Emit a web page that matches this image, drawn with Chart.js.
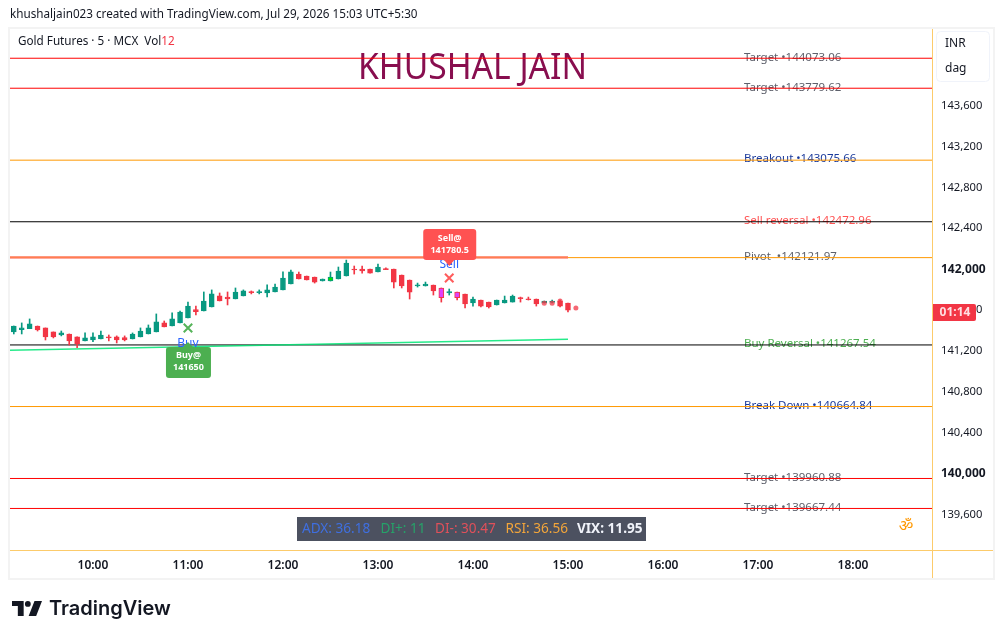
<!DOCTYPE html>
<html><head><meta charset="utf-8">
<style>
html,body{margin:0;padding:0;background:#fff;width:1004px;height:639px;overflow:hidden}
canvas{position:absolute;left:0;top:0}
#logo{position:absolute;left:12px;top:601px}
</style>
<script src="https://cdn.jsdelivr.net/npm/chart.js@4"></script>
</head><body>
<canvas id="c" width="1004" height="639"></canvas>
<svg id="logo" width="30" height="15" viewBox="0 0 36 18"><path fill="#131722" d="M14 0H0v6h7v12h7V0zM20 18L27 0h9l-7 18h-9zM19 7a3.500 3.500 0 1 0 0-7 3.500 3.500 0 0 0 0 7z"/></svg>
<script>
const FONT = '"Noto Sans", sans-serif';
const firstBarMinute = 550;
const barMinutes = 5;
const opens  = [141395,141418,141427,141453,141434,141395,141365,141375,141346,141307,141316,141326,141346,141346,141339,141326,141346,141375,141395,141483,141453,141483,141532,141613,141600,141639,141747,141737,141718,141747,141789,141780,141776,141786,141806,141864,141961,141942,141932,141893,141893,141913,141942,142010,142010,142010,141981,142014,142010,141952,141903,141844,141844,141854,141825,141776,141785,141766,141678,141707,141687,141658,141678,141687,141730,141720,141717,141678,141684,141697,141678];
const highs  = [141453,141483,141522,141453,141434,141395,141404,141375,141346,141385,141385,141404,141365,141356,141356,141385,141434,141463,141571,141502,141581,141600,141688,141649,141786,141806,141776,141786,141825,141806,141796,141806,141855,141864,141982,142001,141981,141942,141932,141913,141981,142030,142098,142040,142040,142010,142059,142023,142010,141952,141903,141873,141883,141854,141825,141815,141785,141766,141736,141707,141687,141707,141746,141756,141736,141736,141717,141697,141707,141707,141678];
const lows   = [141375,141375,141427,141404,141316,141336,141356,141267,141241,141307,141300,141326,141307,141287,141307,141326,141346,141375,141395,141444,141453,141483,141532,141561,141600,141639,141698,141659,141718,141747,141767,141767,141737,141786,141806,141864,141913,141903,141873,141893,141893,141913,141942,141961,141971,141971,141981,142004,141825,141825,141717,141834,141844,141756,141687,141756,141707,141629,141648,141639,141629,141658,141678,141687,141687,141707,141648,141678,141678,141639,141590];
const closes = [141453,141434,141473,141414,141346,141346,141385,141307,141277,141336,141346,141365,141336,141316,141316,141375,141404,141434,141493,141444,141522,141590,141649,141594,141698,141767,141698,141718,141786,141796,141780,141789,141806,141835,141923,141982,141913,141903,141883,141913,141932,141991,142069,142001,141991,141971,142030,142004,141883,141844,141785,141857,141864,141795,141730,141789,141730,141668,141717,141648,141639,141707,141707,141746,141720,141710,141668,141697,141697,141648,141609];
const limeBars = [40];
const magentaBars = [54, 56];
const dotMinutes = [885, 890, 895, 905];
const dotPrices = [141675, 141675, 141698, 141629];
const levelNames = ['Target •','Target •','Breakout •','Sell reversal •','Pivot  •','Buy Reversal •','Break Down •','Target •','Target •'];
const levelValues = [144073.06,143779.62,143075.66,142472.96,142121.97,141267.54,140664.84,139960.88,139667.44];
const levelColors = ['#ff0000','#ff0000','#ff9800','#000000','#ff9800','#000000','#ff9800','#ff0000','#ff0000'];
const levelTextColors = ['#5d606b','#5d606b','#1a3a9c','#ff5252','#5d606b','#4caf50','#1a3a9c','#5d606b','#5d606b'];
const priceTicks = [139600,140000,140400,140800,141200,141600,142000,142400,142800,143200,143600,144000];
const timeTicks = [600,660,720,780,840,900,960,1020,1080];
const timeLabels = ['10:00','11:00','12:00','13:00','14:00','15:00','16:00','17:00','18:00'];
const xMin = 547.6, xMax = 1129.9, yMin = 139261, yMax = 144369;
const sellLinePrice = 142123;
const buyLineStart = 141215, buyLineEnd = 141323;
const lineEndMinute = 900;
const buyMark = {x:660, y:141434, label:'Buy', top:'Buy@', bottom:'141650'};
const sellMark = {x:825, y:141923, label:'Sell', top:'Sell@', bottom:'141780.5'};
const tableCells = [['ADX: 36.18','#3f6fe0',302,'400'],['DI+: 11','#26a269',380.5,'400'],['DI-: 30.47','#e0505a',435,'400'],['RSI: 36.56','#f2a53a',505.5,'400'],['VIX: 11.95','#f0f3fa',577,'700']];

const GREEN='#089981', RED='#f23645';
const times = opens.map((_,i)=>firstBarMinute+i*barMinutes);
const isUp = i => closes[i]>=opens[i];
const candleColor = opens.map((_,i)=>isUp(i)?GREEN:RED);
const bodyFill = opens.map((_,i)=> limeBars.includes(i)?'#00e600':magentaBars.includes(i)?'#e040fb':candleColor[i]);

const datasets = [];
levelValues.forEach((v,i)=>datasets.push({type:'line',data:[{x:xMin,y:v},{x:xMax,y:v}],borderColor:levelColors[i],borderWidth:1,pointRadius:0,order:20}));
datasets.push({type:'line',data:[{x:xMin,y:sellLinePrice},{x:lineEndMinute,y:sellLinePrice}],borderColor:'rgba(255,82,82,.45)',borderWidth:3,pointRadius:0,order:12});
datasets.push({type:'line',data:[{x:xMin,y:sellLinePrice+3},{x:lineEndMinute,y:sellLinePrice+3}],borderColor:'#ff7f50',borderWidth:1.5,pointRadius:0,order:11});
datasets.push({type:'line',data:[{x:xMin,y:buyLineStart},{x:lineEndMinute,y:buyLineEnd}],borderColor:'rgba(0,230,118,.85)',borderWidth:1.5,pointRadius:0,order:11});
datasets.push({type:'bar',data:times.map((t,i)=>({x:t,y:[lows[i],highs[i]]})),backgroundColor:candleColor,barThickness:1,grouped:false,order:6});
datasets.push({type:'bar',data:times.map((t,i)=>({x:t,y:[Math.min(opens[i],closes[i]),Math.max(opens[i],closes[i])]})),backgroundColor:bodyFill,borderColor:candleColor,borderWidth:1,borderSkipped:false,barThickness:5,grouped:false,order:5});
datasets.push({type:'scatter',data:dotMinutes.map((t,i)=>({x:t,y:dotPrices[i]})),backgroundColor:'rgba(242,54,69,.75)',borderWidth:0,pointRadius:2.5,order:4});
datasets.push({type:'scatter',data:[{x:buyMark.x,y:buyMark.y}],pointStyle:'crossRot',pointRadius:6,borderColor:'rgba(76,175,80,.95)',borderWidth:2,order:3});
datasets.push({type:'scatter',data:[{x:sellMark.x,y:sellMark.y}],pointStyle:'crossRot',pointRadius:6,borderColor:'rgba(255,82,82,.95)',borderWidth:2,order:3});

function rr(ctx,x,y,w,h,r){ctx.beginPath();ctx.roundRect(x,y,w,h,r);}
function txt(ctx,s,x,y,font,color,align,base){ctx.font=font;ctx.fillStyle=color;ctx.textAlign=align||'left';ctx.textBaseline=base||'middle';ctx.fillText(s,x,y);}

const panels = {
  id:'panels',
  beforeDraw(ch){
    const c=ch.ctx;c.save();
    c.fillStyle='#f3f3f3';
    c.fillRect(8,27,987,2);c.fillRect(8,578,987,2);c.fillRect(8,27,2,553);c.fillRect(993,27,2,553);
    c.fillStyle='#fccb6b';
    c.fillRect(932,29,1,549);c.fillRect(10,550,983,1);
    c.restore();
  },
  beforeDatasetsDraw(ch){
    const c=ch.ctx,y=ch.scales.y;c.save();
    levelNames.forEach((n,i)=>txt(c,n+levelValues[i].toFixed(2),744,y.getPixelForValue(levelValues[i])-1,'11.5px '+FONT,levelTextColors[i]));
    c.save();c.translate(358,79);c.scale(.908,1);
    txt(c,'KHUSHAL JAIN',0,0,'37px '+FONT,'#880e4f','left','alphabetic');
    c.restore();
    c.restore();
  },
  afterDatasetsDraw(ch){
    const c=ch.ctx,X=ch.scales.x,Y=ch.scales.y;c.save();
    const bx=X.getPixelForValue(buyMark.x),by=Y.getPixelForValue(buyMark.y);
    txt(c,buyMark.label,bx,by+16,'12px '+FONT,'#2962ff','center');
    c.fillStyle='#4caf50';rr(c,bx-22,by+19,45,31,3);c.fill();
    c.beginPath();c.moveTo(bx-6,by+20);c.lineTo(bx,by+14);c.lineTo(bx+6,by+20);c.fill();
    txt(c,buyMark.top,bx+.5,by+28,'bold 9px '+FONT,'#fff','center');
    txt(c,buyMark.bottom,bx+.5,by+40,'bold 9px '+FONT,'#fff','center');
    const sx=X.getPixelForValue(sellMark.x),sy=Y.getPixelForValue(sellMark.y);
    txt(c,sellMark.label,sx,sy-13,'12px '+FONT,'#2962ff','center');
    c.fillStyle='#ff5252';rr(c,sx-26,sy-49,53,31,3);c.fill();
    c.beginPath();c.moveTo(sx-6,sy-19);c.lineTo(sx,sy-12);c.lineTo(sx+6,sy-19);c.fill();
    txt(c,sellMark.top,sx+.5,sy-40,'bold 9px '+FONT,'#fff','center');
    txt(c,sellMark.bottom,sx+.5,sy-28,'bold 9px '+FONT,'#fff','center');
    txt(c,'Gold Futures · 5 · MCX  Vol',18,41.5,'11.7px '+FONT,'#131722');
    const w=c.measureText('Gold Futures · 5 · MCX  Vol').width;
    txt(c,'12',18+w,41.5,'11.7px '+FONT,'#f23645');
    c.fillStyle='#4c5160';c.fillRect(297,517,349,24);
    tableCells.forEach(r=>txt(c,r[0],r[2],529,r[3]+' 13.6px '+FONT,r[1]));
    txt(c,'ॐ',906,526,'16px '+FONT,'#ff9800','center');
    c.restore();
  },
  afterDraw(ch){
    const c=ch.ctx;c.save();
    c.fillStyle='#fff';c.strokeStyle='#f0f3fa';c.lineWidth=1;
    rr(c,936.5,31.5,53,50,4);c.fill();c.stroke();
    txt(c,'INR',945,44,'12px '+FONT,'#131722');
    txt(c,'dag',945,69,'12px '+FONT,'#131722');
    c.fillStyle='#f23645';rr(c,933,304,43,17,[0,2,2,0]);c.fill();
    txt(c,'01:14',955,312.5,'bold 12px '+FONT,'#ffdfe2','center');
    txt(c,'khushaljain023 created with TradingView.com, Jul 29, 2026 15:03 UTC+5:30',10,15,'11.7px '+FONT,'#131722');
    txt(c,'TradingView',49,609,'600 20px Inter, sans-serif','#131722');
    c.restore();
  }
};

new Chart(document.getElementById('c'),{
  data:{datasets},
  plugins:[panels],
  options:{
    responsive:false,animation:false,
    layout:{padding:{left:10,top:28,right:11,bottom:61}},
    plugins:{legend:{display:false},tooltip:{enabled:false}},
    scales:{
      x:{type:'linear',offset:false,min:xMin,max:xMax,grid:{display:false,drawTicks:false},border:{display:false},
        afterBuildTicks:s=>{s.ticks=timeTicks.map(v=>({value:v}));},
        afterFit:s=>{s.height=28;},
        ticks:{autoSkip:false,maxRotation:0,padding:8,color:'#131722',font:{family:FONT,size:12,weight:'600'},
          callback:v=>timeLabels[timeTicks.indexOf(v)]}},
      y:{type:'linear',position:'right',min:yMin,max:yMax,grid:{display:false,drawTicks:false},border:{display:false},
        afterBuildTicks:s=>{s.ticks=priceTicks.map(v=>({value:v}));},
        afterFit:s=>{s.width=61;},
        ticks:{autoSkip:false,padding:9,labelOffset:-1,color:'#131722',
          font:ctx=>{const b=ctx.tick&&ctx.tick.value%2000===0;return {family:FONT,size:b?12:11.2,weight:b?'bold':'normal'};},
          callback:v=>v.toLocaleString('en-US')}}
    }
  }
});
</script>
</body></html>
